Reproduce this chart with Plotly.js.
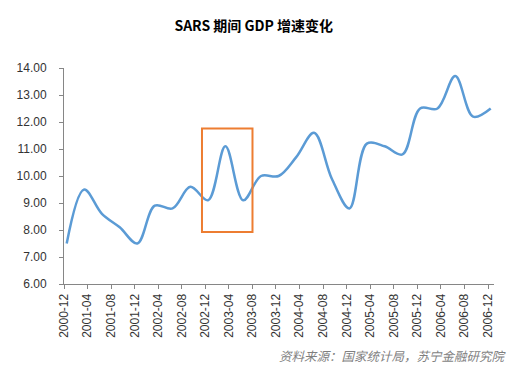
<!DOCTYPE html>
<html>
<head>
<meta charset="utf-8">
<script src="https://cdn.plot.ly/plotly-3.0.1.min.js"></script>
<style>html,body{margin:0;padding:0;background:#fff;}#chart{width:532px;height:384px;}</style>
</head>
<body>
<div id="chart"></div>
<script>
const quarters = ["2000-12","2001-03","2001-06","2001-09","2001-12","2002-03","2002-06","2002-09","2002-12",
  "2003-03","2003-06","2003-09","2003-12","2004-03","2004-06","2004-09","2004-12",
  "2005-03","2005-06","2005-09","2005-12","2006-03","2006-06","2006-09","2006-12"];
const gdpGrowth = [7.5,9.5,8.6,8.1,7.5,8.9,8.8,9.6,9.1,
  11.1,9.1,10.0,10.0,10.7,11.6,9.9,8.8,
  11.2,11.1,10.8,12.5,12.5,13.7,12.2,12.5];
const tickLabels = ["2000-12","2001-04","2001-08","2001-12","2002-04","2002-08","2002-12","2003-04","2003-08",
  "2003-12","2004-04","2004-08","2004-12","2005-04","2005-08","2005-12","2006-04","2006-08","2006-12"];
const sarsWindow = {start:"2002-11-14", end:"2003-08-02", low:7.93, high:11.76};

const trace = {
  x: quarters.map(q => q + "-15"),
  y: gdpGrowth,
  type: "scatter",
  mode: "lines",
  line: {color: "#5B9BD5", width: 2.5, shape: "spline", smoothing: 1},
  hoverinfo: "skip"
};

const layout = {
  width: 532, height: 384,
  margin: {l: 64, r: 38, t: 68, b: 100, pad: 0},
  paper_bgcolor: "#fff", plot_bgcolor: "#fff",
  showlegend: false,
  title: {text: "<b>SARS 期间 GDP 增速变化</b>", x: 0.477, xanchor: "center", y: 0.932, yanchor: "middle",
    font: {family: "Noto Sans CJK SC, sans-serif", size: 14, color: "#000"}},
  xaxis: {
    type: "date",
    range: ["2000-12-01", "2007-01-01"],
    tickmode: "array",
    tickvals: tickLabels.map(t => t + "-01"),
    ticktext: tickLabels,
    tickangle: -90,
    ticks: "outside", ticklen: 4, tickcolor: "#868686",
    showline: true, linecolor: "#868686", linewidth: 1,
    showgrid: false, zeroline: false,
    tickfont: {family: "Liberation Sans, Arial, sans-serif", size: 12, color: "#333"}
  },
  yaxis: {
    range: [6, 14],
    dtick: 1, tick0: 6,
    tickformat: ".2f",
    ticks: "outside", ticklen: 4, tickcolor: "#868686",
    ticklabelstandoff: 10,
    showline: true, linecolor: "#868686", linewidth: 1,
    showgrid: false, zeroline: false,
    tickfont: {family: "Liberation Sans, Arial, sans-serif", size: 12, color: "#333"}
  },
  shapes: [{
    type: "rect", xref: "x", yref: "y",
    x0: sarsWindow.start, x1: sarsWindow.end, y0: sarsWindow.low, y1: sarsWindow.high,
    line: {color: "#ED7D31", width: 2}, fillcolor: "rgba(0,0,0,0)"
  }],
  annotations: [{
    text: "资料来源：国家统计局，苏宁金融研究院",
    xref: "paper", yref: "paper", x: 1.034, y: -0.33, xanchor: "right", yanchor: "middle",
    showarrow: false,
    font: {family: "Noto Sans CJK SC, sans-serif", size: 12.5, color: "#7f7f7f", style: "italic"}
  }]
};

Plotly.newPlot("chart", [trace], layout, {displayModeBar: false, staticPlot: true});
</script>
</body>
</html>
